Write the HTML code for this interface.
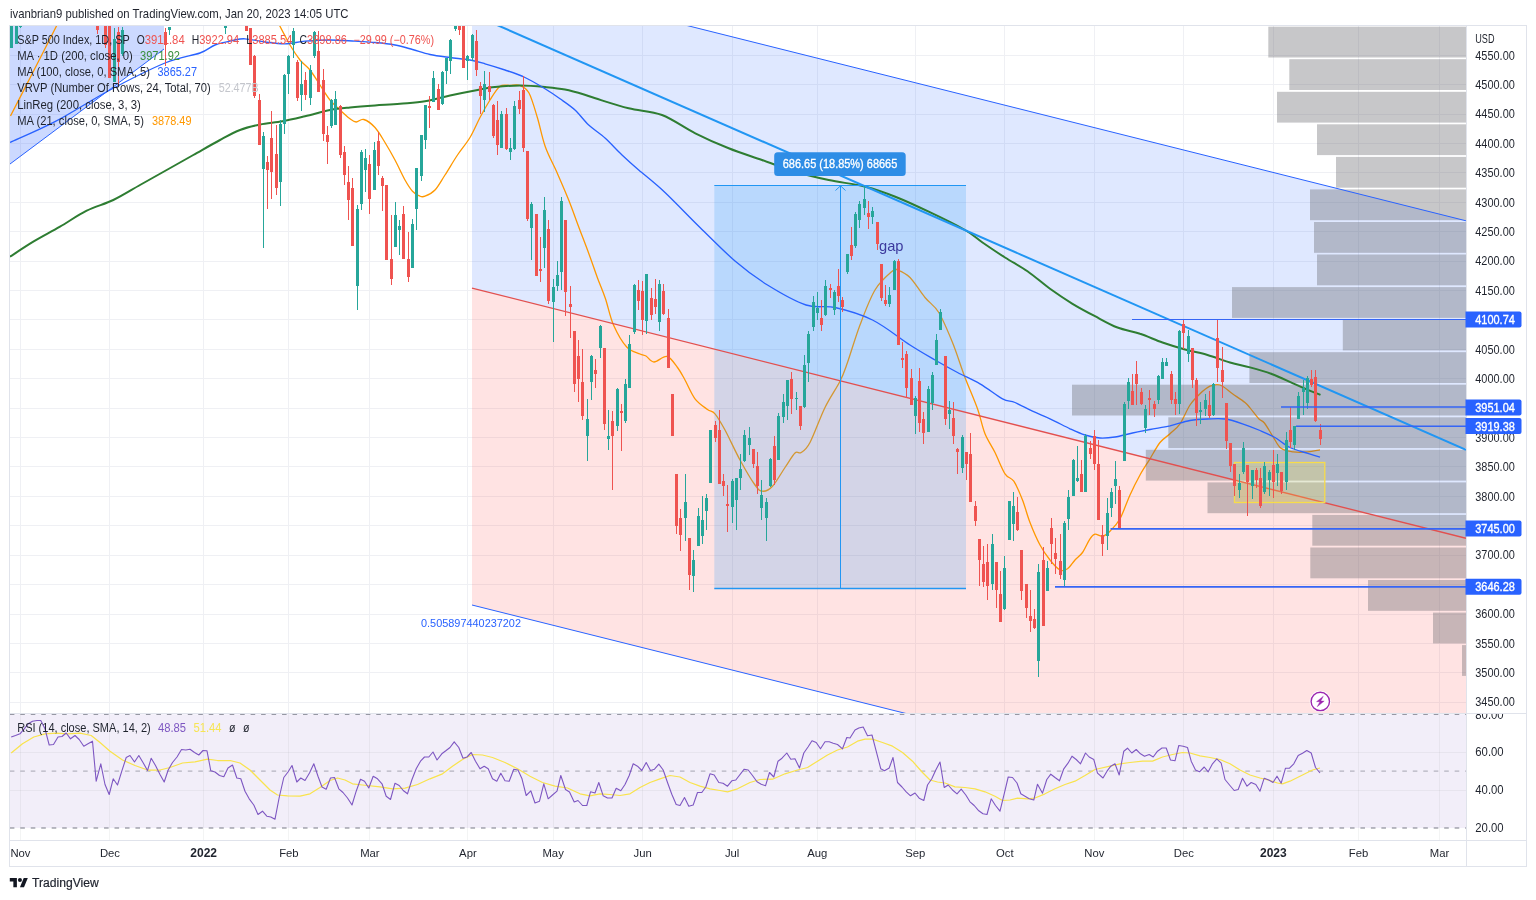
<!DOCTYPE html>
<html><head><meta charset="utf-8"><title>S&amp;P 500 chart</title><style>html,body{margin:0;padding:0;background:#fff;width:1536px;height:900px;overflow:hidden;font-family:"Liberation Sans",sans-serif}</style></head>
<body>
<div style="position:absolute;left:0;top:0;width:1536px;height:900px;will-change:transform">
<svg width="1536" height="900" viewBox="0 0 1536 900" style="position:absolute;left:0;top:0;font-family:'Liberation Sans',sans-serif">
<defs><clipPath id="mp"><rect x="10" y="26" width="1456" height="687.5"/></clipPath><clipPath id="rp"><rect x="10" y="714" width="1456" height="126"/></clipPath></defs>
<g clip-path="url(#mp)">
<line x1="20.5" y1="26" x2="20.5" y2="713" stroke="#eff0f4"/>
<line x1="109.5" y1="26" x2="109.5" y2="713" stroke="#eff0f4"/>
<line x1="203.5" y1="26" x2="203.5" y2="713" stroke="#eff0f4"/>
<line x1="288.5" y1="26" x2="288.5" y2="713" stroke="#eff0f4"/>
<line x1="369.5" y1="26" x2="369.5" y2="713" stroke="#eff0f4"/>
<line x1="467.5" y1="26" x2="467.5" y2="713" stroke="#eff0f4"/>
<line x1="553.5" y1="26" x2="553.5" y2="713" stroke="#eff0f4"/>
<line x1="642.5" y1="26" x2="642.5" y2="713" stroke="#eff0f4"/>
<line x1="732.5" y1="26" x2="732.5" y2="713" stroke="#eff0f4"/>
<line x1="817.5" y1="26" x2="817.5" y2="713" stroke="#eff0f4"/>
<line x1="915.5" y1="26" x2="915.5" y2="713" stroke="#eff0f4"/>
<line x1="1004.5" y1="26" x2="1004.5" y2="713" stroke="#eff0f4"/>
<line x1="1094.5" y1="26" x2="1094.5" y2="713" stroke="#eff0f4"/>
<line x1="1183.5" y1="26" x2="1183.5" y2="713" stroke="#eff0f4"/>
<line x1="1273.5" y1="26" x2="1273.5" y2="713" stroke="#eff0f4"/>
<line x1="1358.5" y1="26" x2="1358.5" y2="713" stroke="#eff0f4"/>
<line x1="1439.5" y1="26" x2="1439.5" y2="713" stroke="#eff0f4"/>
<line x1="10" y1="702.5" x2="1466" y2="702.5" stroke="#eff0f4"/>
<line x1="10" y1="672.5" x2="1466" y2="672.5" stroke="#eff0f4"/>
<line x1="10" y1="643.5" x2="1466" y2="643.5" stroke="#eff0f4"/>
<line x1="10" y1="614.5" x2="1466" y2="614.5" stroke="#eff0f4"/>
<line x1="10" y1="584.5" x2="1466" y2="584.5" stroke="#eff0f4"/>
<line x1="10" y1="555.5" x2="1466" y2="555.5" stroke="#eff0f4"/>
<line x1="10" y1="525.5" x2="1466" y2="525.5" stroke="#eff0f4"/>
<line x1="10" y1="496.5" x2="1466" y2="496.5" stroke="#eff0f4"/>
<line x1="10" y1="466.5" x2="1466" y2="466.5" stroke="#eff0f4"/>
<line x1="10" y1="437.5" x2="1466" y2="437.5" stroke="#eff0f4"/>
<line x1="10" y1="408.5" x2="1466" y2="408.5" stroke="#eff0f4"/>
<line x1="10" y1="378.5" x2="1466" y2="378.5" stroke="#eff0f4"/>
<line x1="10" y1="349.5" x2="1466" y2="349.5" stroke="#eff0f4"/>
<line x1="10" y1="319.5" x2="1466" y2="319.5" stroke="#eff0f4"/>
<line x1="10" y1="290.5" x2="1466" y2="290.5" stroke="#eff0f4"/>
<line x1="10" y1="261.5" x2="1466" y2="261.5" stroke="#eff0f4"/>
<line x1="10" y1="231.5" x2="1466" y2="231.5" stroke="#eff0f4"/>
<line x1="10" y1="202.5" x2="1466" y2="202.5" stroke="#eff0f4"/>
<line x1="10" y1="172.5" x2="1466" y2="172.5" stroke="#eff0f4"/>
<line x1="10" y1="143.5" x2="1466" y2="143.5" stroke="#eff0f4"/>
<line x1="10" y1="114.5" x2="1466" y2="114.5" stroke="#eff0f4"/>
<line x1="10" y1="84.5" x2="1466" y2="84.5" stroke="#eff0f4"/>
<line x1="10" y1="55.5" x2="1466" y2="55.5" stroke="#eff0f4"/>
<polygon points="10,26 164,26 164,49 10,164" fill="rgba(41,98,255,0.24)"/>
<line x1="10" y1="164" x2="164" y2="49" stroke="#2962ff" stroke-width="1"/>
<polygon points="472.0,-28.4 1466.0,220.8 1466.0,538.3 472.0,288.1" fill="rgba(41,98,255,0.15)"/>
<polygon points="472.0,288.1 1466.0,538.3 1466.0,853.5 472.0,605.0" fill="rgba(255,82,82,0.16)"/>
<path d="M10.5,116.0 C13.8,109.7 22.2,93.2 30.0,78.0 C37.8,62.8 52.5,33.8 57.0,25.0" fill="none" stroke="#ff9800" stroke-width="1.3" stroke-linejoin="round"/>
<path d="M278.8,24.0 C280.6,27.5 286.5,39.0 290.0,45.0 C293.5,51.0 296.7,55.8 300.0,60.0 C303.3,64.2 306.7,65.8 310.0,70.0 C313.3,74.2 316.7,80.0 320.0,85.0 C323.3,90.0 326.7,95.8 330.0,100.0 C333.3,104.2 336.7,106.9 340.0,110.0 C343.3,113.1 347.3,116.8 350.0,118.8 C352.7,120.8 354.0,121.9 356.2,122.0 C358.5,122.1 360.6,118.6 363.8,119.5 C366.9,120.4 371.5,123.7 375.0,127.5 C378.5,131.3 381.7,137.1 385.0,142.5 C388.3,147.9 391.7,153.8 395.0,160.0 C398.3,166.2 402.1,174.8 405.0,180.0 C407.9,185.2 410.0,188.5 412.5,191.2 C415.0,194.0 417.9,195.4 420.0,196.2 C422.1,197.1 422.5,197.3 425.0,196.2 C427.5,195.2 431.7,193.5 435.0,190.0 C438.3,186.5 441.2,180.8 445.0,175.0 C448.8,169.2 453.3,161.2 457.5,155.0 C461.7,148.8 466.2,143.8 470.0,137.5 C473.8,131.2 476.7,123.8 480.0,117.5 C483.3,111.2 486.7,105.2 490.0,100.0 C493.3,94.8 496.7,88.7 500.0,86.2 C503.3,83.8 506.7,85.6 510.0,85.5 C513.3,85.4 516.8,84.2 520.0,85.5 C523.2,86.8 526.1,87.6 529.0,93.0 C531.9,98.4 534.8,109.0 537.5,118.0 C540.2,127.0 542.0,137.6 545.3,146.7 C548.5,155.8 553.1,163.6 557.0,172.5 C560.9,181.4 565.2,191.2 568.7,200.0 C572.2,208.8 574.7,216.1 578.0,225.0 C581.3,233.9 585.5,244.5 588.7,253.3 C592.0,262.1 594.7,270.5 597.5,278.0 C600.3,285.5 602.6,290.5 605.3,298.3 C608.0,306.1 609.9,316.9 613.5,325.0 C617.1,333.1 622.3,342.2 626.7,347.0 C631.1,351.8 636.8,352.5 640.0,354.0 C643.2,355.5 643.7,354.7 646.0,356.0 C648.3,357.3 650.5,361.9 654.0,362.0 C657.5,362.1 663.1,355.6 667.0,356.5 C670.9,357.4 674.5,363.6 677.5,367.5 C680.5,371.4 682.1,374.8 685.0,380.0 C687.9,385.2 691.2,393.8 695.0,398.8 C698.8,403.7 704.2,407.0 707.5,409.5 C710.8,412.0 712.1,410.3 715.0,413.8 C717.9,417.2 720.8,422.3 725.0,430.0 C729.2,437.7 735.0,450.8 740.0,460.0 C745.0,469.2 751.2,479.8 755.0,485.0 C758.8,490.2 759.6,491.0 762.5,491.2 C765.4,491.5 768.8,490.2 772.5,486.2 C776.2,482.3 781.2,473.0 785.0,467.5 C788.8,462.0 792.3,455.5 795.0,453.0 C797.7,450.5 798.8,454.2 801.2,452.5 C803.8,450.8 806.0,450.0 810.0,442.5 C814.0,435.0 820.0,417.7 825.0,407.5 C830.0,397.3 836.2,388.8 840.0,381.2 C843.8,373.8 844.2,371.9 847.5,362.5 C850.8,353.1 855.4,337.1 860.0,325.0 C864.6,312.9 869.6,299.0 875.0,290.0 C880.4,281.0 888.8,274.3 892.5,271.0 C896.2,267.7 894.6,268.9 897.5,270.0 C900.4,271.1 905.4,272.9 910.0,277.5 C914.6,282.1 920.2,291.7 925.0,297.5 C929.8,303.3 934.2,305.0 938.8,312.5 C943.3,320.0 948.1,331.7 952.5,342.5 C956.9,353.3 960.8,366.5 965.0,377.5 C969.2,388.5 974.2,399.4 977.5,408.8 C980.8,418.1 982.1,426.5 985.0,433.8 C987.9,441.0 991.7,445.8 995.0,452.5 C998.3,459.2 1001.9,469.0 1005.0,473.8 C1008.1,478.5 1010.8,476.9 1013.8,481.2 C1016.7,485.6 1019.8,493.1 1022.5,500.0 C1025.2,506.9 1027.1,515.0 1030.0,522.5 C1032.9,530.0 1036.7,538.8 1040.0,545.0 C1043.3,551.2 1046.7,555.8 1050.0,560.0 C1053.3,564.2 1057.1,568.5 1060.0,570.0 C1062.9,571.5 1065.0,570.4 1067.5,568.8 C1070.0,567.1 1072.5,562.7 1075.0,560.0 C1077.5,557.3 1080.0,556.0 1082.5,552.5 C1085.0,549.0 1087.9,541.8 1090.0,538.8 C1092.1,535.7 1092.9,534.7 1095.0,534.2 C1097.1,533.8 1100.0,536.8 1102.5,536.2 C1105.0,535.8 1107.1,534.2 1110.0,531.2 C1112.9,528.3 1116.7,524.8 1120.0,518.8 C1123.3,512.7 1126.7,502.3 1130.0,495.0 C1133.3,487.7 1136.7,481.0 1140.0,475.0 C1143.3,469.0 1146.7,464.2 1150.0,458.8 C1153.3,453.3 1156.7,446.7 1160.0,442.5 C1163.3,438.3 1166.7,436.9 1170.0,433.8 C1173.3,430.6 1176.7,428.5 1180.0,423.8 C1183.3,419.0 1186.7,410.0 1190.0,405.0 C1193.3,400.0 1196.7,396.9 1200.0,393.8 C1203.3,390.6 1206.7,387.7 1210.0,386.2 C1213.3,384.8 1216.2,383.8 1220.0,385.0 C1223.8,386.2 1228.3,390.8 1232.5,393.8 C1236.7,396.7 1242.1,400.1 1245.0,402.5 C1247.9,404.9 1247.7,405.2 1250.0,407.9 C1252.3,410.6 1256.3,416.2 1258.7,418.7 C1261.1,421.2 1262.0,420.0 1264.4,423.0 C1266.8,426.0 1270.3,432.5 1273.1,436.8 C1275.9,441.0 1277.6,445.8 1281.0,448.3 C1284.4,450.8 1288.8,451.3 1293.3,451.9 C1297.8,452.5 1303.3,452.3 1307.8,451.9 C1312.2,451.5 1318.0,450.1 1320.0,449.8" fill="none" stroke="#ff9800" stroke-width="1.3" stroke-linejoin="round"/>
<rect x="714.3" y="185.5" width="251.7" height="403.3" fill="rgba(33,150,243,0.2)"/>
<rect x="1268.3" y="26.7" width="197.7" height="30.8" fill="rgba(100,101,106,0.36)"/>
<rect x="1289.3" y="59.2" width="176.7" height="30.8" fill="rgba(100,101,106,0.36)"/>
<rect x="1277" y="91.8" width="189.0" height="30.8" fill="rgba(100,101,106,0.36)"/>
<rect x="1317" y="124.3" width="149.0" height="30.8" fill="rgba(100,101,106,0.36)"/>
<rect x="1336" y="156.9" width="130.0" height="30.8" fill="rgba(100,101,106,0.36)"/>
<rect x="1310" y="189.4" width="156.0" height="30.8" fill="rgba(100,101,106,0.36)"/>
<rect x="1314" y="222.0" width="152.0" height="30.8" fill="rgba(100,101,106,0.36)"/>
<rect x="1317" y="254.5" width="149.0" height="30.8" fill="rgba(100,101,106,0.36)"/>
<rect x="1232" y="287.1" width="234.0" height="30.8" fill="rgba(100,101,106,0.36)"/>
<rect x="1342.8" y="319.6" width="123.2" height="30.8" fill="rgba(100,101,106,0.36)"/>
<rect x="1249.4" y="352.2" width="216.6" height="30.8" fill="rgba(100,101,106,0.36)"/>
<rect x="1072" y="384.7" width="394.0" height="30.8" fill="rgba(100,101,106,0.36)"/>
<rect x="1168.3" y="417.3" width="297.7" height="30.8" fill="rgba(100,101,106,0.36)"/>
<rect x="1145.8" y="449.8" width="320.2" height="30.8" fill="rgba(100,101,106,0.36)"/>
<rect x="1207.5" y="482.4" width="258.5" height="30.8" fill="rgba(100,101,106,0.36)"/>
<rect x="1312.3" y="514.9" width="153.7" height="30.8" fill="rgba(100,101,106,0.36)"/>
<rect x="1310.3" y="547.5" width="155.7" height="30.8" fill="rgba(100,101,106,0.36)"/>
<rect x="1368" y="580.0" width="98.0" height="30.8" fill="rgba(100,101,106,0.36)"/>
<rect x="1433" y="612.6" width="33.0" height="30.8" fill="rgba(100,101,106,0.36)"/>
<rect x="1462" y="645.1" width="4.0" height="30.8" fill="rgba(100,101,106,0.36)"/>
<line x1="472.0" y1="-28.4" x2="1466.0" y2="220.8" stroke="#2962ff" stroke-width="1"/>
<line x1="472.0" y1="605.0" x2="1466.0" y2="853.5" stroke="#2962ff" stroke-width="1"/>
<line x1="472.0" y1="288.1" x2="1466.0" y2="538.3" stroke="#e2504f" stroke-width="1.35"/>
<path d="M10.0,256.7 C13.9,254.2 25.0,246.7 33.3,241.7 C41.6,236.7 51.1,231.9 60.0,226.7 C68.9,221.5 77.8,215.1 86.7,210.7 C95.6,206.2 104.4,204.3 113.3,200.0 C122.2,195.7 131.1,190.0 140.0,185.0 C148.9,180.0 157.8,175.0 166.7,170.0 C175.6,165.0 184.4,160.0 193.3,155.0 C202.2,150.0 212.2,144.2 220.0,140.0 C227.8,135.8 233.3,132.6 240.0,130.0 C246.7,127.4 252.9,126.0 260.0,124.5 C267.1,123.0 275.0,122.6 282.5,121.2 C290.0,119.9 297.1,118.1 305.0,116.2 C312.9,114.4 322.5,111.5 330.0,110.0 C337.5,108.5 342.5,108.2 350.0,107.5 C357.5,106.8 366.7,106.1 375.0,105.5 C383.3,104.9 391.7,104.5 400.0,103.8 C408.3,103.0 416.7,102.6 425.0,101.2 C433.3,99.9 441.7,97.3 450.0,95.5 C458.3,93.7 467.5,91.9 475.0,90.5 C482.5,89.1 487.5,87.8 495.0,87.0 C502.5,86.2 511.7,85.5 520.0,85.5 C528.3,85.5 537.5,86.3 545.0,87.0 C552.5,87.7 558.5,88.2 565.0,89.5 C571.5,90.8 579.0,93.0 584.0,94.5 C589.0,96.0 587.8,96.0 595.3,98.3 C602.8,100.6 617.6,105.5 628.7,108.3 C639.8,111.1 650.9,110.8 662.0,115.0 C673.1,119.2 684.2,127.8 695.3,133.3 C706.4,138.9 717.6,143.9 728.7,148.3 C739.8,152.8 750.9,156.1 762.0,160.0 C773.1,163.9 784.2,168.4 795.3,171.7 C806.4,175.0 817.0,177.5 828.7,180.0 C840.4,182.5 854.2,183.9 865.3,186.7 C876.4,189.5 884.7,192.5 895.3,196.7 C905.9,200.9 917.1,206.1 928.7,211.7 C940.3,217.2 956.0,224.9 965.0,230.0 C974.0,235.1 975.8,237.9 982.5,242.5 C989.2,247.1 997.5,252.7 1005.0,257.5 C1012.5,262.3 1020.0,266.0 1027.5,271.2 C1035.0,276.5 1042.5,283.3 1050.0,288.8 C1057.5,294.2 1065.0,299.2 1072.5,303.8 C1080.0,308.3 1087.5,312.3 1095.0,316.2 C1102.5,320.2 1110.0,324.6 1117.5,327.5 C1125.0,330.4 1132.5,331.2 1140.0,333.8 C1147.5,336.2 1155.0,339.9 1162.5,342.5 C1170.0,345.1 1177.5,347.4 1185.0,349.5 C1192.5,351.6 1200.0,352.8 1207.5,355.0 C1215.0,357.2 1222.9,360.4 1230.0,362.5 C1237.1,364.6 1243.0,365.5 1250.0,367.4 C1257.0,369.3 1264.5,371.4 1271.7,374.0 C1278.9,376.6 1287.0,380.7 1293.0,383.3 C1299.0,385.9 1303.2,387.9 1307.8,389.8 C1312.4,391.7 1318.4,394.0 1320.5,394.9" fill="none" stroke="#2e7d32" stroke-width="2" stroke-linejoin="round"/>
<path d="M10.0,142.5 C17.5,139.0 38.3,130.4 55.0,121.7 C71.7,113.0 91.7,99.8 110.0,90.0 C128.3,80.2 150.0,69.2 165.0,63.0 C180.0,56.8 191.7,56.0 200.0,53.0 C208.3,50.0 209.6,47.1 215.0,45.0 C220.4,42.9 227.5,41.5 232.5,40.5 C237.5,39.5 239.6,38.5 245.0,38.8 C250.4,39.0 258.3,41.2 265.0,42.0 C271.7,42.8 278.3,43.9 285.0,43.8 C291.7,43.6 297.5,41.9 305.0,41.2 C312.5,40.6 321.7,40.0 330.0,40.0 C338.3,40.0 347.5,40.8 355.0,41.2 C362.5,41.7 368.3,41.9 375.0,42.5 C381.7,43.1 388.8,43.8 395.0,45.0 C401.2,46.2 406.7,47.9 412.5,49.5 C418.3,51.1 423.8,53.2 430.0,54.5 C436.2,55.8 443.3,56.6 450.0,57.5 C456.7,58.4 464.2,59.0 470.0,60.0 C475.8,61.0 479.2,62.1 485.0,63.8 C490.8,65.4 498.3,67.7 505.0,70.0 C511.7,72.3 518.3,74.4 525.0,77.5 C531.7,80.6 539.2,85.2 545.0,88.8 C550.8,92.3 555.0,95.2 560.0,98.8 C565.0,102.3 570.2,105.6 575.0,110.0 C579.8,114.4 583.7,120.3 588.7,125.0 C593.8,129.7 599.8,133.3 605.3,138.3 C610.8,143.3 616.4,149.7 622.0,155.0 C627.6,160.3 631.5,163.8 638.7,170.0 C645.9,176.2 654.8,182.9 665.0,192.5 C675.2,202.1 688.3,216.1 700.0,227.5 C711.7,238.9 723.8,251.4 735.0,261.0 C746.2,270.6 755.7,277.7 767.5,285.0 C779.3,292.3 794.8,301.2 806.0,305.0 C817.2,308.8 823.9,305.0 835.0,307.5 C846.1,310.0 860.0,313.8 872.5,320.0 C885.0,326.2 899.6,338.3 910.0,345.0 C920.4,351.7 927.1,355.4 935.0,360.0 C942.9,364.6 950.0,368.5 957.5,372.5 C965.0,376.5 972.5,379.4 980.0,383.8 C987.5,388.1 996.7,395.6 1002.5,398.8 C1008.3,401.9 1010.0,400.4 1015.0,402.5 C1020.0,404.6 1026.7,408.5 1032.5,411.2 C1038.3,414.0 1043.8,415.8 1050.0,418.8 C1056.2,421.7 1064.2,426.0 1070.0,428.8 C1075.8,431.5 1080.0,433.5 1085.0,435.0 C1090.0,436.5 1095.0,437.7 1100.0,438.0 C1105.0,438.3 1109.6,437.8 1115.0,437.0 C1120.4,436.2 1126.7,434.2 1132.5,433.0 C1138.3,431.8 1143.8,430.7 1150.0,429.5 C1156.2,428.3 1163.3,427.2 1170.0,425.8 C1176.7,424.2 1183.8,421.6 1190.0,420.5 C1196.2,419.4 1201.7,419.2 1207.5,419.0 C1213.3,418.8 1219.2,418.2 1225.0,419.0 C1230.8,419.8 1236.7,421.8 1242.5,423.8 C1248.3,425.7 1254.6,428.2 1260.0,430.5 C1265.4,432.8 1270.0,434.7 1275.0,437.5 C1280.0,440.3 1284.5,444.9 1290.0,447.5 C1295.5,450.1 1302.8,451.8 1307.8,453.4 C1312.8,455.0 1318.0,456.6 1320.0,457.2" fill="none" stroke="#2962ff" stroke-width="1.35" stroke-linejoin="round"/>
<line x1="497" y1="25" x2="1466" y2="449.8" stroke="#2196f3" stroke-width="2"/>
<rect x="1234.5" y="462.5" width="90.3" height="40" fill="rgba(255,235,59,0.22)" stroke="#f7dc4a" stroke-width="1.3"/>
<rect x="11" y="20" width="1" height="28" fill="#26a69a"/>
<rect x="10" y="20" width="3" height="28" fill="#26a69a"/>
<rect x="16" y="20" width="1" height="24" fill="#26a69a"/>
<rect x="15" y="20" width="3" height="24" fill="#26a69a"/>
<rect x="20" y="20" width="1" height="8" fill="#26a69a"/>
<rect x="19" y="20" width="3" height="7" fill="#26a69a"/>
<rect x="97" y="20" width="1" height="14" fill="#ef5350"/>
<rect x="96" y="20" width="3" height="10" fill="#ef5350"/>
<rect x="105" y="20" width="1" height="28" fill="#ef5350"/>
<rect x="104" y="20" width="3" height="25" fill="#ef5350"/>
<rect x="109" y="20" width="1" height="58" fill="#ef5350"/>
<rect x="108" y="20" width="3" height="58" fill="#ef5350"/>
<rect x="114" y="28" width="1" height="54" fill="#26a69a"/>
<rect x="113" y="39" width="3" height="43" fill="#26a69a"/>
<rect x="118" y="27" width="1" height="59" fill="#ef5350"/>
<rect x="117" y="32" width="3" height="30" fill="#ef5350"/>
<rect x="122" y="27" width="1" height="29" fill="#26a69a"/>
<rect x="121" y="30" width="3" height="24" fill="#26a69a"/>
<rect x="165" y="28" width="1" height="38" fill="#ef5350"/>
<rect x="164" y="32" width="3" height="13" fill="#ef5350"/>
<rect x="169" y="27" width="1" height="8" fill="#26a69a"/>
<rect x="168" y="27" width="3" height="3" fill="#26a69a"/>
<rect x="225" y="20" width="1" height="14" fill="#26a69a"/>
<rect x="224" y="20" width="3" height="8" fill="#26a69a"/>
<rect x="246" y="20" width="1" height="11" fill="#ef5350"/>
<rect x="245" y="20" width="3" height="11" fill="#ef5350"/>
<rect x="250" y="28" width="1" height="37" fill="#ef5350"/>
<rect x="249" y="28" width="3" height="37" fill="#ef5350"/>
<rect x="254" y="55" width="1" height="43" fill="#ef5350"/>
<rect x="253" y="56" width="3" height="40" fill="#ef5350"/>
<rect x="259" y="94" width="1" height="51" fill="#ef5350"/>
<rect x="258" y="100" width="3" height="45" fill="#ef5350"/>
<rect x="263" y="132" width="1" height="116" fill="#26a69a"/>
<rect x="262" y="136" width="3" height="33" fill="#26a69a"/>
<rect x="267" y="156" width="1" height="53" fill="#ef5350"/>
<rect x="266" y="162" width="3" height="8" fill="#ef5350"/>
<rect x="271" y="111" width="1" height="88" fill="#ef5350"/>
<rect x="270" y="138" width="3" height="34" fill="#ef5350"/>
<rect x="276" y="125" width="1" height="70" fill="#ef5350"/>
<rect x="275" y="154" width="3" height="34" fill="#ef5350"/>
<rect x="280" y="120" width="1" height="86" fill="#26a69a"/>
<rect x="279" y="124" width="3" height="58" fill="#26a69a"/>
<rect x="284" y="74" width="1" height="60" fill="#26a69a"/>
<rect x="283" y="75" width="3" height="49" fill="#26a69a"/>
<rect x="288" y="55" width="1" height="39" fill="#26a69a"/>
<rect x="287" y="56" width="3" height="18" fill="#26a69a"/>
<rect x="293" y="28" width="1" height="30" fill="#26a69a"/>
<rect x="292" y="31" width="3" height="14" fill="#26a69a"/>
<rect x="297" y="60" width="1" height="41" fill="#ef5350"/>
<rect x="296" y="62" width="3" height="36" fill="#ef5350"/>
<rect x="301" y="61" width="1" height="50" fill="#26a69a"/>
<rect x="300" y="84" width="3" height="11" fill="#26a69a"/>
<rect x="305" y="72" width="1" height="28" fill="#ef5350"/>
<rect x="304" y="80" width="3" height="15" fill="#ef5350"/>
<rect x="310" y="65" width="1" height="40" fill="#26a69a"/>
<rect x="309" y="70" width="3" height="28" fill="#26a69a"/>
<rect x="314" y="31" width="1" height="27" fill="#26a69a"/>
<rect x="313" y="32" width="3" height="24" fill="#26a69a"/>
<rect x="318" y="31" width="1" height="61" fill="#ef5350"/>
<rect x="317" y="51" width="3" height="41" fill="#ef5350"/>
<rect x="323" y="69" width="1" height="72" fill="#ef5350"/>
<rect x="322" y="80" width="3" height="54" fill="#ef5350"/>
<rect x="327" y="126" width="1" height="38" fill="#ef5350"/>
<rect x="326" y="135" width="3" height="7" fill="#ef5350"/>
<rect x="331" y="99" width="1" height="29" fill="#26a69a"/>
<rect x="330" y="100" width="3" height="26" fill="#26a69a"/>
<rect x="335" y="91" width="1" height="34" fill="#26a69a"/>
<rect x="334" y="99" width="3" height="26" fill="#26a69a"/>
<rect x="340" y="105" width="1" height="53" fill="#ef5350"/>
<rect x="339" y="106" width="3" height="49" fill="#ef5350"/>
<rect x="344" y="146" width="1" height="39" fill="#ef5350"/>
<rect x="343" y="152" width="3" height="23" fill="#ef5350"/>
<rect x="348" y="166" width="1" height="54" fill="#ef5350"/>
<rect x="347" y="182" width="3" height="18" fill="#ef5350"/>
<rect x="352" y="178" width="1" height="68" fill="#ef5350"/>
<rect x="351" y="188" width="3" height="58" fill="#ef5350"/>
<rect x="357" y="205" width="1" height="105" fill="#26a69a"/>
<rect x="356" y="209" width="3" height="77" fill="#26a69a"/>
<rect x="361" y="150" width="1" height="60" fill="#26a69a"/>
<rect x="360" y="152" width="3" height="52" fill="#26a69a"/>
<rect x="365" y="149" width="1" height="43" fill="#26a69a"/>
<rect x="364" y="158" width="3" height="12" fill="#26a69a"/>
<rect x="369" y="155" width="1" height="59" fill="#ef5350"/>
<rect x="368" y="164" width="3" height="35" fill="#ef5350"/>
<rect x="374" y="142" width="1" height="48" fill="#26a69a"/>
<rect x="373" y="150" width="3" height="40" fill="#26a69a"/>
<rect x="378" y="132" width="1" height="43" fill="#ef5350"/>
<rect x="377" y="141" width="3" height="25" fill="#ef5350"/>
<rect x="382" y="176" width="1" height="35" fill="#ef5350"/>
<rect x="381" y="178" width="3" height="8" fill="#ef5350"/>
<rect x="386" y="185" width="1" height="75" fill="#ef5350"/>
<rect x="385" y="185" width="3" height="75" fill="#ef5350"/>
<rect x="391" y="215" width="1" height="70" fill="#ef5350"/>
<rect x="390" y="259" width="3" height="20" fill="#ef5350"/>
<rect x="395" y="202" width="1" height="45" fill="#26a69a"/>
<rect x="394" y="215" width="3" height="32" fill="#26a69a"/>
<rect x="399" y="220" width="1" height="35" fill="#26a69a"/>
<rect x="398" y="226" width="3" height="4" fill="#26a69a"/>
<rect x="403" y="206" width="1" height="53" fill="#ef5350"/>
<rect x="402" y="214" width="3" height="45" fill="#ef5350"/>
<rect x="408" y="232" width="1" height="50" fill="#ef5350"/>
<rect x="407" y="259" width="3" height="18" fill="#ef5350"/>
<rect x="412" y="219" width="1" height="49" fill="#26a69a"/>
<rect x="411" y="224" width="3" height="44" fill="#26a69a"/>
<rect x="416" y="168" width="1" height="62" fill="#26a69a"/>
<rect x="415" y="168" width="3" height="41" fill="#26a69a"/>
<rect x="421" y="135" width="1" height="46" fill="#26a69a"/>
<rect x="420" y="135" width="3" height="41" fill="#26a69a"/>
<rect x="425" y="105" width="1" height="44" fill="#26a69a"/>
<rect x="424" y="105" width="3" height="35" fill="#26a69a"/>
<rect x="429" y="96" width="1" height="32" fill="#ef5350"/>
<rect x="428" y="106" width="3" height="2" fill="#ef5350"/>
<rect x="433" y="71" width="1" height="31" fill="#26a69a"/>
<rect x="432" y="78" width="3" height="24" fill="#26a69a"/>
<rect x="438" y="84" width="1" height="26" fill="#ef5350"/>
<rect x="437" y="89" width="3" height="21" fill="#ef5350"/>
<rect x="442" y="71" width="1" height="34" fill="#26a69a"/>
<rect x="441" y="72" width="3" height="32" fill="#26a69a"/>
<rect x="446" y="58" width="1" height="26" fill="#26a69a"/>
<rect x="445" y="58" width="3" height="13" fill="#26a69a"/>
<rect x="450" y="39" width="1" height="35" fill="#26a69a"/>
<rect x="449" y="40" width="3" height="21" fill="#26a69a"/>
<rect x="455" y="20" width="1" height="11" fill="#26a69a"/>
<rect x="454" y="20" width="3" height="9" fill="#26a69a"/>
<rect x="459" y="20" width="1" height="15" fill="#ef5350"/>
<rect x="458" y="20" width="3" height="10" fill="#ef5350"/>
<rect x="463" y="20" width="1" height="48" fill="#ef5350"/>
<rect x="462" y="20" width="3" height="48" fill="#ef5350"/>
<rect x="467" y="55" width="1" height="25" fill="#26a69a"/>
<rect x="466" y="56" width="3" height="5" fill="#26a69a"/>
<rect x="472" y="34" width="1" height="27" fill="#26a69a"/>
<rect x="471" y="35" width="3" height="23" fill="#26a69a"/>
<rect x="476" y="30" width="1" height="46" fill="#ef5350"/>
<rect x="475" y="41" width="3" height="29" fill="#ef5350"/>
<rect x="480" y="82" width="1" height="32" fill="#ef5350"/>
<rect x="479" y="86" width="3" height="10" fill="#ef5350"/>
<rect x="484" y="71" width="1" height="41" fill="#26a69a"/>
<rect x="483" y="84" width="3" height="16" fill="#26a69a"/>
<rect x="489" y="72" width="1" height="28" fill="#ef5350"/>
<rect x="488" y="86" width="3" height="6" fill="#ef5350"/>
<rect x="493" y="104" width="1" height="34" fill="#ef5350"/>
<rect x="492" y="105" width="3" height="31" fill="#ef5350"/>
<rect x="497" y="101" width="1" height="54" fill="#ef5350"/>
<rect x="496" y="120" width="3" height="25" fill="#ef5350"/>
<rect x="501" y="111" width="1" height="37" fill="#26a69a"/>
<rect x="500" y="114" width="3" height="34" fill="#26a69a"/>
<rect x="506" y="108" width="1" height="42" fill="#ef5350"/>
<rect x="505" y="114" width="3" height="35" fill="#ef5350"/>
<rect x="510" y="138" width="1" height="22" fill="#26a69a"/>
<rect x="509" y="148" width="3" height="4" fill="#26a69a"/>
<rect x="514" y="101" width="1" height="49" fill="#26a69a"/>
<rect x="513" y="106" width="3" height="43" fill="#26a69a"/>
<rect x="519" y="91" width="1" height="23" fill="#ef5350"/>
<rect x="518" y="100" width="3" height="9" fill="#ef5350"/>
<rect x="523" y="76" width="1" height="76" fill="#ef5350"/>
<rect x="522" y="90" width="3" height="58" fill="#ef5350"/>
<rect x="527" y="151" width="1" height="70" fill="#ef5350"/>
<rect x="526" y="151" width="3" height="68" fill="#ef5350"/>
<rect x="531" y="202" width="1" height="58" fill="#26a69a"/>
<rect x="530" y="204" width="3" height="24" fill="#26a69a"/>
<rect x="536" y="214" width="1" height="62" fill="#ef5350"/>
<rect x="535" y="214" width="3" height="62" fill="#ef5350"/>
<rect x="540" y="237" width="1" height="45" fill="#ef5350"/>
<rect x="539" y="269" width="3" height="2" fill="#ef5350"/>
<rect x="544" y="197" width="1" height="71" fill="#26a69a"/>
<rect x="543" y="210" width="3" height="38" fill="#26a69a"/>
<rect x="548" y="220" width="1" height="84" fill="#ef5350"/>
<rect x="547" y="229" width="3" height="72" fill="#ef5350"/>
<rect x="553" y="279" width="1" height="63" fill="#26a69a"/>
<rect x="552" y="287" width="3" height="15" fill="#26a69a"/>
<rect x="557" y="261" width="1" height="30" fill="#26a69a"/>
<rect x="556" y="275" width="3" height="11" fill="#26a69a"/>
<rect x="561" y="197" width="1" height="93" fill="#26a69a"/>
<rect x="560" y="201" width="3" height="71" fill="#26a69a"/>
<rect x="565" y="220" width="1" height="96" fill="#ef5350"/>
<rect x="564" y="220" width="3" height="72" fill="#ef5350"/>
<rect x="570" y="286" width="1" height="52" fill="#ef5350"/>
<rect x="569" y="304" width="3" height="3" fill="#ef5350"/>
<rect x="574" y="331" width="1" height="61" fill="#ef5350"/>
<rect x="573" y="331" width="3" height="53" fill="#ef5350"/>
<rect x="578" y="340" width="1" height="62" fill="#ef5350"/>
<rect x="577" y="356" width="3" height="23" fill="#ef5350"/>
<rect x="582" y="349" width="1" height="71" fill="#ef5350"/>
<rect x="581" y="382" width="3" height="34" fill="#ef5350"/>
<rect x="587" y="399" width="1" height="62" fill="#26a69a"/>
<rect x="586" y="419" width="3" height="17" fill="#26a69a"/>
<rect x="591" y="355" width="1" height="45" fill="#26a69a"/>
<rect x="590" y="356" width="3" height="26" fill="#26a69a"/>
<rect x="595" y="359" width="1" height="29" fill="#ef5350"/>
<rect x="594" y="370" width="3" height="4" fill="#ef5350"/>
<rect x="600" y="325" width="1" height="33" fill="#26a69a"/>
<rect x="599" y="326" width="3" height="22" fill="#26a69a"/>
<rect x="604" y="348" width="1" height="82" fill="#ef5350"/>
<rect x="603" y="348" width="3" height="76" fill="#ef5350"/>
<rect x="608" y="410" width="1" height="40" fill="#26a69a"/>
<rect x="607" y="436" width="3" height="3" fill="#26a69a"/>
<rect x="612" y="411" width="1" height="79" fill="#ef5350"/>
<rect x="611" y="421" width="3" height="15" fill="#ef5350"/>
<rect x="617" y="388" width="1" height="43" fill="#26a69a"/>
<rect x="616" y="389" width="3" height="37" fill="#26a69a"/>
<rect x="621" y="404" width="1" height="47" fill="#ef5350"/>
<rect x="620" y="411" width="3" height="2" fill="#ef5350"/>
<rect x="625" y="379" width="1" height="44" fill="#26a69a"/>
<rect x="624" y="384" width="3" height="37" fill="#26a69a"/>
<rect x="629" y="335" width="1" height="53" fill="#26a69a"/>
<rect x="628" y="344" width="3" height="44" fill="#26a69a"/>
<rect x="634" y="284" width="1" height="50" fill="#26a69a"/>
<rect x="633" y="285" width="3" height="47" fill="#26a69a"/>
<rect x="638" y="280" width="1" height="30" fill="#ef5350"/>
<rect x="637" y="290" width="3" height="11" fill="#ef5350"/>
<rect x="642" y="281" width="1" height="54" fill="#ef5350"/>
<rect x="641" y="291" width="3" height="29" fill="#ef5350"/>
<rect x="646" y="274" width="1" height="60" fill="#26a69a"/>
<rect x="645" y="274" width="3" height="47" fill="#26a69a"/>
<rect x="651" y="288" width="1" height="32" fill="#ef5350"/>
<rect x="650" y="298" width="3" height="17" fill="#ef5350"/>
<rect x="655" y="279" width="1" height="35" fill="#ef5350"/>
<rect x="654" y="299" width="3" height="8" fill="#ef5350"/>
<rect x="659" y="280" width="1" height="51" fill="#26a69a"/>
<rect x="658" y="284" width="3" height="38" fill="#26a69a"/>
<rect x="663" y="284" width="1" height="31" fill="#ef5350"/>
<rect x="662" y="291" width="3" height="23" fill="#ef5350"/>
<rect x="668" y="309" width="1" height="59" fill="#ef5350"/>
<rect x="667" y="318" width="3" height="50" fill="#ef5350"/>
<rect x="672" y="394" width="1" height="42" fill="#ef5350"/>
<rect x="671" y="394" width="3" height="42" fill="#ef5350"/>
<rect x="676" y="474" width="1" height="60" fill="#ef5350"/>
<rect x="675" y="474" width="3" height="52" fill="#ef5350"/>
<rect x="680" y="509" width="1" height="42" fill="#ef5350"/>
<rect x="679" y="518" width="3" height="17" fill="#ef5350"/>
<rect x="685" y="474" width="1" height="67" fill="#26a69a"/>
<rect x="684" y="502" width="3" height="16" fill="#26a69a"/>
<rect x="689" y="538" width="1" height="52" fill="#ef5350"/>
<rect x="688" y="538" width="3" height="37" fill="#ef5350"/>
<rect x="693" y="550" width="1" height="42" fill="#26a69a"/>
<rect x="692" y="560" width="3" height="16" fill="#26a69a"/>
<rect x="698" y="508" width="1" height="38" fill="#26a69a"/>
<rect x="697" y="516" width="3" height="30" fill="#26a69a"/>
<rect x="702" y="496" width="1" height="48" fill="#26a69a"/>
<rect x="701" y="520" width="3" height="16" fill="#26a69a"/>
<rect x="706" y="494" width="1" height="36" fill="#26a69a"/>
<rect x="705" y="498" width="3" height="13" fill="#26a69a"/>
<rect x="710" y="430" width="1" height="53" fill="#26a69a"/>
<rect x="709" y="430" width="3" height="53" fill="#26a69a"/>
<rect x="715" y="421" width="1" height="21" fill="#ef5350"/>
<rect x="714" y="425" width="3" height="13" fill="#ef5350"/>
<rect x="719" y="410" width="1" height="74" fill="#ef5350"/>
<rect x="718" y="430" width="3" height="54" fill="#ef5350"/>
<rect x="723" y="474" width="1" height="22" fill="#ef5350"/>
<rect x="722" y="481" width="3" height="5" fill="#ef5350"/>
<rect x="727" y="485" width="1" height="47" fill="#ef5350"/>
<rect x="726" y="504" width="3" height="2" fill="#ef5350"/>
<rect x="732" y="479" width="1" height="44" fill="#26a69a"/>
<rect x="731" y="481" width="3" height="26" fill="#26a69a"/>
<rect x="736" y="478" width="1" height="52" fill="#26a69a"/>
<rect x="735" y="478" width="3" height="22" fill="#26a69a"/>
<rect x="740" y="454" width="1" height="36" fill="#26a69a"/>
<rect x="739" y="469" width="3" height="9" fill="#26a69a"/>
<rect x="744" y="430" width="1" height="32" fill="#26a69a"/>
<rect x="743" y="435" width="3" height="26" fill="#26a69a"/>
<rect x="749" y="427" width="1" height="28" fill="#26a69a"/>
<rect x="748" y="438" width="3" height="7" fill="#26a69a"/>
<rect x="753" y="449" width="1" height="19" fill="#ef5350"/>
<rect x="752" y="449" width="3" height="15" fill="#ef5350"/>
<rect x="757" y="452" width="1" height="42" fill="#ef5350"/>
<rect x="756" y="466" width="3" height="20" fill="#ef5350"/>
<rect x="761" y="480" width="1" height="40" fill="#26a69a"/>
<rect x="760" y="495" width="3" height="13" fill="#26a69a"/>
<rect x="766" y="498" width="1" height="43" fill="#26a69a"/>
<rect x="765" y="502" width="3" height="16" fill="#26a69a"/>
<rect x="770" y="458" width="1" height="29" fill="#26a69a"/>
<rect x="769" y="459" width="3" height="27" fill="#26a69a"/>
<rect x="774" y="436" width="1" height="49" fill="#ef5350"/>
<rect x="773" y="446" width="3" height="34" fill="#ef5350"/>
<rect x="778" y="413" width="1" height="47" fill="#26a69a"/>
<rect x="777" y="416" width="3" height="44" fill="#26a69a"/>
<rect x="783" y="394" width="1" height="29" fill="#26a69a"/>
<rect x="782" y="402" width="3" height="15" fill="#26a69a"/>
<rect x="787" y="380" width="1" height="40" fill="#26a69a"/>
<rect x="786" y="380" width="3" height="26" fill="#26a69a"/>
<rect x="791" y="372" width="1" height="42" fill="#ef5350"/>
<rect x="790" y="379" width="3" height="20" fill="#ef5350"/>
<rect x="796" y="392" width="1" height="18" fill="#26a69a"/>
<rect x="795" y="398" width="3" height="1" fill="#26a69a"/>
<rect x="800" y="406" width="1" height="24" fill="#ef5350"/>
<rect x="799" y="406" width="3" height="20" fill="#ef5350"/>
<rect x="804" y="355" width="1" height="53" fill="#26a69a"/>
<rect x="803" y="365" width="3" height="42" fill="#26a69a"/>
<rect x="808" y="331" width="1" height="51" fill="#26a69a"/>
<rect x="807" y="334" width="3" height="29" fill="#26a69a"/>
<rect x="813" y="296" width="1" height="35" fill="#26a69a"/>
<rect x="812" y="302" width="3" height="25" fill="#26a69a"/>
<rect x="817" y="292" width="1" height="28" fill="#26a69a"/>
<rect x="816" y="308" width="3" height="5" fill="#26a69a"/>
<rect x="821" y="300" width="1" height="31" fill="#ef5350"/>
<rect x="820" y="318" width="3" height="7" fill="#ef5350"/>
<rect x="825" y="280" width="1" height="36" fill="#26a69a"/>
<rect x="824" y="286" width="3" height="29" fill="#26a69a"/>
<rect x="830" y="284" width="1" height="14" fill="#ef5350"/>
<rect x="829" y="288" width="3" height="2" fill="#ef5350"/>
<rect x="834" y="290" width="1" height="25" fill="#26a69a"/>
<rect x="833" y="292" width="3" height="18" fill="#26a69a"/>
<rect x="838" y="269" width="1" height="33" fill="#ef5350"/>
<rect x="837" y="286" width="3" height="10" fill="#ef5350"/>
<rect x="842" y="297" width="1" height="15" fill="#ef5350"/>
<rect x="841" y="300" width="3" height="7" fill="#ef5350"/>
<rect x="847" y="254" width="1" height="20" fill="#26a69a"/>
<rect x="846" y="254" width="3" height="18" fill="#26a69a"/>
<rect x="851" y="227" width="1" height="33" fill="#ef5350"/>
<rect x="850" y="245" width="3" height="11" fill="#ef5350"/>
<rect x="855" y="212" width="1" height="36" fill="#26a69a"/>
<rect x="854" y="214" width="3" height="32" fill="#26a69a"/>
<rect x="859" y="201" width="1" height="27" fill="#26a69a"/>
<rect x="858" y="204" width="3" height="16" fill="#26a69a"/>
<rect x="864" y="186" width="1" height="29" fill="#26a69a"/>
<rect x="863" y="199" width="3" height="9" fill="#26a69a"/>
<rect x="868" y="201" width="1" height="28" fill="#ef5350"/>
<rect x="867" y="213" width="3" height="4" fill="#ef5350"/>
<rect x="872" y="207" width="1" height="17" fill="#26a69a"/>
<rect x="871" y="211" width="3" height="6" fill="#26a69a"/>
<rect x="877" y="222" width="1" height="28" fill="#ef5350"/>
<rect x="876" y="222" width="3" height="22" fill="#ef5350"/>
<rect x="881" y="264" width="1" height="37" fill="#ef5350"/>
<rect x="880" y="264" width="3" height="34" fill="#ef5350"/>
<rect x="885" y="285" width="1" height="21" fill="#ef5350"/>
<rect x="884" y="300" width="3" height="4" fill="#ef5350"/>
<rect x="889" y="287" width="1" height="20" fill="#26a69a"/>
<rect x="888" y="295" width="3" height="9" fill="#26a69a"/>
<rect x="894" y="260" width="1" height="30" fill="#26a69a"/>
<rect x="893" y="261" width="3" height="29" fill="#26a69a"/>
<rect x="898" y="259" width="1" height="86" fill="#ef5350"/>
<rect x="897" y="261" width="3" height="84" fill="#ef5350"/>
<rect x="902" y="342" width="1" height="26" fill="#ef5350"/>
<rect x="901" y="358" width="3" height="2" fill="#ef5350"/>
<rect x="906" y="351" width="1" height="47" fill="#ef5350"/>
<rect x="905" y="354" width="3" height="34" fill="#ef5350"/>
<rect x="911" y="369" width="1" height="36" fill="#ef5350"/>
<rect x="910" y="378" width="3" height="27" fill="#ef5350"/>
<rect x="915" y="396" width="1" height="38" fill="#26a69a"/>
<rect x="914" y="398" width="3" height="18" fill="#26a69a"/>
<rect x="919" y="368" width="1" height="64" fill="#ef5350"/>
<rect x="918" y="381" width="3" height="42" fill="#ef5350"/>
<rect x="923" y="412" width="1" height="32" fill="#ef5350"/>
<rect x="922" y="419" width="3" height="14" fill="#ef5350"/>
<rect x="928" y="386" width="1" height="46" fill="#26a69a"/>
<rect x="927" y="389" width="3" height="43" fill="#26a69a"/>
<rect x="932" y="372" width="1" height="38" fill="#26a69a"/>
<rect x="931" y="375" width="3" height="28" fill="#26a69a"/>
<rect x="936" y="334" width="1" height="31" fill="#26a69a"/>
<rect x="935" y="340" width="3" height="25" fill="#26a69a"/>
<rect x="940" y="309" width="1" height="21" fill="#26a69a"/>
<rect x="939" y="312" width="3" height="18" fill="#26a69a"/>
<rect x="945" y="356" width="1" height="69" fill="#ef5350"/>
<rect x="944" y="356" width="3" height="63" fill="#ef5350"/>
<rect x="949" y="401" width="1" height="28" fill="#26a69a"/>
<rect x="948" y="410" width="3" height="4" fill="#26a69a"/>
<rect x="953" y="402" width="1" height="42" fill="#ef5350"/>
<rect x="952" y="418" width="3" height="18" fill="#ef5350"/>
<rect x="957" y="448" width="1" height="26" fill="#ef5350"/>
<rect x="956" y="449" width="3" height="3" fill="#ef5350"/>
<rect x="962" y="435" width="1" height="38" fill="#26a69a"/>
<rect x="961" y="437" width="3" height="31" fill="#26a69a"/>
<rect x="966" y="452" width="1" height="28" fill="#ef5350"/>
<rect x="965" y="452" width="3" height="12" fill="#ef5350"/>
<rect x="970" y="433" width="1" height="69" fill="#ef5350"/>
<rect x="969" y="454" width="3" height="48" fill="#ef5350"/>
<rect x="975" y="501" width="1" height="25" fill="#ef5350"/>
<rect x="974" y="506" width="3" height="15" fill="#ef5350"/>
<rect x="979" y="539" width="1" height="47" fill="#ef5350"/>
<rect x="978" y="539" width="3" height="21" fill="#ef5350"/>
<rect x="983" y="546" width="1" height="41" fill="#ef5350"/>
<rect x="982" y="564" width="3" height="18" fill="#ef5350"/>
<rect x="987" y="544" width="1" height="56" fill="#ef5350"/>
<rect x="986" y="562" width="3" height="24" fill="#ef5350"/>
<rect x="992" y="534" width="1" height="56" fill="#26a69a"/>
<rect x="991" y="544" width="3" height="40" fill="#26a69a"/>
<rect x="996" y="562" width="1" height="46" fill="#ef5350"/>
<rect x="995" y="562" width="3" height="28" fill="#ef5350"/>
<rect x="1000" y="571" width="1" height="51" fill="#ef5350"/>
<rect x="999" y="594" width="3" height="28" fill="#ef5350"/>
<rect x="1004" y="556" width="1" height="54" fill="#26a69a"/>
<rect x="1003" y="568" width="3" height="41" fill="#26a69a"/>
<rect x="1009" y="501" width="1" height="39" fill="#26a69a"/>
<rect x="1008" y="501" width="3" height="39" fill="#26a69a"/>
<rect x="1013" y="492" width="1" height="49" fill="#26a69a"/>
<rect x="1012" y="506" width="3" height="18" fill="#26a69a"/>
<rect x="1017" y="497" width="1" height="34" fill="#ef5350"/>
<rect x="1016" y="512" width="3" height="18" fill="#ef5350"/>
<rect x="1021" y="550" width="1" height="50" fill="#ef5350"/>
<rect x="1020" y="550" width="3" height="41" fill="#ef5350"/>
<rect x="1026" y="584" width="1" height="34" fill="#ef5350"/>
<rect x="1025" y="584" width="3" height="24" fill="#ef5350"/>
<rect x="1030" y="590" width="1" height="42" fill="#ef5350"/>
<rect x="1029" y="616" width="3" height="5" fill="#ef5350"/>
<rect x="1034" y="609" width="1" height="20" fill="#ef5350"/>
<rect x="1033" y="619" width="3" height="9" fill="#ef5350"/>
<rect x="1038" y="564" width="1" height="113" fill="#26a69a"/>
<rect x="1037" y="572" width="3" height="89" fill="#26a69a"/>
<rect x="1043" y="547" width="1" height="79" fill="#ef5350"/>
<rect x="1042" y="560" width="3" height="66" fill="#ef5350"/>
<rect x="1047" y="561" width="1" height="30" fill="#26a69a"/>
<rect x="1046" y="568" width="3" height="23" fill="#26a69a"/>
<rect x="1051" y="518" width="1" height="46" fill="#ef5350"/>
<rect x="1050" y="528" width="3" height="16" fill="#ef5350"/>
<rect x="1055" y="538" width="1" height="36" fill="#ef5350"/>
<rect x="1054" y="553" width="3" height="6" fill="#ef5350"/>
<rect x="1060" y="534" width="1" height="45" fill="#ef5350"/>
<rect x="1059" y="561" width="3" height="14" fill="#ef5350"/>
<rect x="1064" y="521" width="1" height="65" fill="#26a69a"/>
<rect x="1063" y="523" width="3" height="57" fill="#26a69a"/>
<rect x="1068" y="490" width="1" height="40" fill="#26a69a"/>
<rect x="1067" y="497" width="3" height="22" fill="#26a69a"/>
<rect x="1073" y="459" width="1" height="37" fill="#26a69a"/>
<rect x="1072" y="460" width="3" height="36" fill="#26a69a"/>
<rect x="1077" y="446" width="1" height="36" fill="#26a69a"/>
<rect x="1076" y="478" width="3" height="3" fill="#26a69a"/>
<rect x="1081" y="460" width="1" height="32" fill="#ef5350"/>
<rect x="1080" y="474" width="3" height="18" fill="#ef5350"/>
<rect x="1085" y="434" width="1" height="58" fill="#26a69a"/>
<rect x="1084" y="436" width="3" height="56" fill="#26a69a"/>
<rect x="1090" y="441" width="1" height="18" fill="#ef5350"/>
<rect x="1089" y="448" width="3" height="6" fill="#ef5350"/>
<rect x="1094" y="430" width="1" height="40" fill="#ef5350"/>
<rect x="1093" y="436" width="3" height="28" fill="#ef5350"/>
<rect x="1098" y="440" width="1" height="80" fill="#ef5350"/>
<rect x="1097" y="464" width="3" height="56" fill="#ef5350"/>
<rect x="1102" y="525" width="1" height="31" fill="#ef5350"/>
<rect x="1101" y="535" width="3" height="9" fill="#ef5350"/>
<rect x="1107" y="498" width="1" height="52" fill="#26a69a"/>
<rect x="1106" y="513" width="3" height="23" fill="#26a69a"/>
<rect x="1111" y="488" width="1" height="29" fill="#26a69a"/>
<rect x="1110" y="492" width="3" height="16" fill="#26a69a"/>
<rect x="1115" y="461" width="1" height="43" fill="#26a69a"/>
<rect x="1114" y="479" width="3" height="7" fill="#26a69a"/>
<rect x="1119" y="486" width="1" height="42" fill="#ef5350"/>
<rect x="1118" y="490" width="3" height="38" fill="#ef5350"/>
<rect x="1124" y="402" width="1" height="59" fill="#26a69a"/>
<rect x="1123" y="404" width="3" height="57" fill="#26a69a"/>
<rect x="1128" y="378" width="1" height="31" fill="#26a69a"/>
<rect x="1127" y="382" width="3" height="19" fill="#26a69a"/>
<rect x="1132" y="374" width="1" height="31" fill="#ef5350"/>
<rect x="1131" y="391" width="3" height="14" fill="#ef5350"/>
<rect x="1136" y="361" width="1" height="44" fill="#ef5350"/>
<rect x="1135" y="374" width="3" height="10" fill="#ef5350"/>
<rect x="1141" y="388" width="1" height="17" fill="#ef5350"/>
<rect x="1140" y="392" width="3" height="12" fill="#ef5350"/>
<rect x="1145" y="405" width="1" height="28" fill="#26a69a"/>
<rect x="1144" y="409" width="3" height="19" fill="#26a69a"/>
<rect x="1149" y="390" width="1" height="25" fill="#ef5350"/>
<rect x="1148" y="398" width="3" height="2" fill="#ef5350"/>
<rect x="1154" y="401" width="1" height="16" fill="#ef5350"/>
<rect x="1153" y="404" width="3" height="5" fill="#ef5350"/>
<rect x="1158" y="375" width="1" height="29" fill="#26a69a"/>
<rect x="1157" y="376" width="3" height="24" fill="#26a69a"/>
<rect x="1162" y="358" width="1" height="21" fill="#26a69a"/>
<rect x="1161" y="362" width="3" height="17" fill="#26a69a"/>
<rect x="1166" y="358" width="1" height="8" fill="#26a69a"/>
<rect x="1165" y="362" width="3" height="4" fill="#26a69a"/>
<rect x="1171" y="371" width="1" height="33" fill="#ef5350"/>
<rect x="1170" y="374" width="3" height="26" fill="#ef5350"/>
<rect x="1175" y="392" width="1" height="23" fill="#ef5350"/>
<rect x="1174" y="399" width="3" height="5" fill="#ef5350"/>
<rect x="1179" y="330" width="1" height="84" fill="#26a69a"/>
<rect x="1178" y="331" width="3" height="73" fill="#26a69a"/>
<rect x="1183" y="319" width="1" height="30" fill="#ef5350"/>
<rect x="1182" y="324" width="3" height="9" fill="#ef5350"/>
<rect x="1188" y="330" width="1" height="32" fill="#26a69a"/>
<rect x="1187" y="336" width="3" height="18" fill="#26a69a"/>
<rect x="1192" y="348" width="1" height="40" fill="#ef5350"/>
<rect x="1191" y="348" width="3" height="32" fill="#ef5350"/>
<rect x="1196" y="378" width="1" height="48" fill="#ef5350"/>
<rect x="1195" y="380" width="3" height="33" fill="#ef5350"/>
<rect x="1200" y="402" width="1" height="22" fill="#26a69a"/>
<rect x="1199" y="410" width="3" height="2" fill="#26a69a"/>
<rect x="1205" y="394" width="1" height="22" fill="#26a69a"/>
<rect x="1204" y="400" width="3" height="9" fill="#26a69a"/>
<rect x="1209" y="391" width="1" height="27" fill="#ef5350"/>
<rect x="1208" y="405" width="3" height="11" fill="#ef5350"/>
<rect x="1213" y="383" width="1" height="33" fill="#26a69a"/>
<rect x="1212" y="384" width="3" height="31" fill="#26a69a"/>
<rect x="1217" y="319" width="1" height="63" fill="#ef5350"/>
<rect x="1216" y="338" width="3" height="30" fill="#ef5350"/>
<rect x="1222" y="347" width="1" height="51" fill="#ef5350"/>
<rect x="1221" y="370" width="3" height="12" fill="#ef5350"/>
<rect x="1226" y="403" width="1" height="46" fill="#ef5350"/>
<rect x="1225" y="403" width="3" height="38" fill="#ef5350"/>
<rect x="1230" y="443" width="1" height="29" fill="#ef5350"/>
<rect x="1229" y="443" width="3" height="23" fill="#ef5350"/>
<rect x="1234" y="464" width="1" height="32" fill="#ef5350"/>
<rect x="1233" y="464" width="3" height="22" fill="#ef5350"/>
<rect x="1239" y="474" width="1" height="24" fill="#26a69a"/>
<rect x="1238" y="483" width="3" height="7" fill="#26a69a"/>
<rect x="1243" y="442" width="1" height="32" fill="#26a69a"/>
<rect x="1242" y="448" width="3" height="24" fill="#26a69a"/>
<rect x="1247" y="465" width="1" height="51" fill="#ef5350"/>
<rect x="1246" y="465" width="3" height="17" fill="#ef5350"/>
<rect x="1252" y="470" width="1" height="29" fill="#26a69a"/>
<rect x="1251" y="470" width="3" height="16" fill="#26a69a"/>
<rect x="1256" y="468" width="1" height="20" fill="#ef5350"/>
<rect x="1255" y="470" width="3" height="10" fill="#ef5350"/>
<rect x="1260" y="468" width="1" height="40" fill="#ef5350"/>
<rect x="1259" y="478" width="3" height="28" fill="#ef5350"/>
<rect x="1264" y="462" width="1" height="32" fill="#26a69a"/>
<rect x="1263" y="466" width="3" height="26" fill="#26a69a"/>
<rect x="1269" y="470" width="1" height="26" fill="#26a69a"/>
<rect x="1268" y="472" width="3" height="8" fill="#26a69a"/>
<rect x="1273" y="450" width="1" height="48" fill="#ef5350"/>
<rect x="1272" y="465" width="3" height="17" fill="#ef5350"/>
<rect x="1277" y="454" width="1" height="32" fill="#26a69a"/>
<rect x="1276" y="464" width="3" height="9" fill="#26a69a"/>
<rect x="1281" y="472" width="1" height="22" fill="#ef5350"/>
<rect x="1280" y="472" width="3" height="19" fill="#ef5350"/>
<rect x="1286" y="432" width="1" height="58" fill="#26a69a"/>
<rect x="1285" y="440" width="3" height="42" fill="#26a69a"/>
<rect x="1290" y="407" width="1" height="41" fill="#ef5350"/>
<rect x="1289" y="430" width="3" height="12" fill="#ef5350"/>
<rect x="1294" y="426" width="1" height="24" fill="#26a69a"/>
<rect x="1293" y="426" width="3" height="19" fill="#26a69a"/>
<rect x="1298" y="392" width="1" height="27" fill="#26a69a"/>
<rect x="1297" y="396" width="3" height="23" fill="#26a69a"/>
<rect x="1303" y="380" width="1" height="35" fill="#26a69a"/>
<rect x="1302" y="388" width="3" height="4" fill="#26a69a"/>
<rect x="1307" y="376" width="1" height="33" fill="#26a69a"/>
<rect x="1306" y="378" width="3" height="25" fill="#26a69a"/>
<rect x="1311" y="370" width="1" height="17" fill="#ef5350"/>
<rect x="1310" y="379" width="3" height="6" fill="#ef5350"/>
<rect x="1315" y="370" width="1" height="52" fill="#ef5350"/>
<rect x="1314" y="377" width="3" height="44" fill="#ef5350"/>
<rect x="1320" y="424" width="1" height="21" fill="#ef5350"/>
<rect x="1319" y="430" width="3" height="9" fill="#ef5350"/>
<line x1="714.3" y1="185.5" x2="966" y2="185.5" stroke="#2196f3" stroke-width="1"/>
<line x1="714.3" y1="588.5" x2="966" y2="588.5" stroke="#2196f3" stroke-width="1.6"/>
<line x1="840.5" y1="186" x2="840.5" y2="588" stroke="#2196f3" stroke-width="1"/>
<path d="M835.5,190.5 L840.5,185.8 L845.5,190.5" fill="none" stroke="#2196f3" stroke-width="1"/>
<line x1="1132" y1="319.5" x2="1466" y2="319.5" stroke="#3565f5" stroke-width="1.0"/>
<line x1="1281" y1="407.1" x2="1466" y2="407.1" stroke="#3565f5" stroke-width="1.5"/>
<line x1="1296" y1="426.3" x2="1466" y2="426.3" stroke="#3565f5" stroke-width="1.5"/>
<line x1="1110.5" y1="528.9" x2="1466" y2="528.9" stroke="#3565f5" stroke-width="1.8"/>
<line x1="1055" y1="586.9" x2="1466" y2="586.9" stroke="#3565f5" stroke-width="1.8"/>
<rect x="774.2" y="152.3" width="131.5" height="23.6" rx="3.5" fill="#2e8de6"/>
<text x="840" y="168.3" font-size="12" fill="#fff" text-anchor="middle" textLength="114.5" lengthAdjust="spacingAndGlyphs" stroke="#fff" stroke-width="0.3">686.65 (18.85%) 68665</text>
<text x="879" y="250.6" font-size="14.5" fill="#3c3a9e" textLength="24.5" lengthAdjust="spacingAndGlyphs">gap</text>
<text x="421" y="627" font-size="10.5" fill="#2962ff" textLength="100" lengthAdjust="spacingAndGlyphs">0.505897440237202</text>
<circle cx="1320.3" cy="701.4" r="10.6" fill="#fff"/>
<circle cx="1320.3" cy="701.4" r="9.2" fill="#fff" stroke="#9c27b0" stroke-width="1.4"/>
<path d="M1323.3,696.2 L1316.5,701.7 L1319.9,701.7 L1317.2,706.7 L1324.2,701.1 L1320.8,701.1 Z" fill="#9c27b0" stroke="#9c27b0" stroke-width="0.4" stroke-linejoin="round"/>
</g>
<g clip-path="url(#rp)">
<rect x="10" y="714.2" width="1456" height="113.8" fill="rgba(126,87,194,0.1)"/>
<line x1="20.5" y1="714" x2="20.5" y2="840" stroke="rgba(42,46,57,0.055)"/>
<line x1="109.5" y1="714" x2="109.5" y2="840" stroke="rgba(42,46,57,0.055)"/>
<line x1="203.5" y1="714" x2="203.5" y2="840" stroke="rgba(42,46,57,0.055)"/>
<line x1="288.5" y1="714" x2="288.5" y2="840" stroke="rgba(42,46,57,0.055)"/>
<line x1="369.5" y1="714" x2="369.5" y2="840" stroke="rgba(42,46,57,0.055)"/>
<line x1="467.5" y1="714" x2="467.5" y2="840" stroke="rgba(42,46,57,0.055)"/>
<line x1="553.5" y1="714" x2="553.5" y2="840" stroke="rgba(42,46,57,0.055)"/>
<line x1="642.5" y1="714" x2="642.5" y2="840" stroke="rgba(42,46,57,0.055)"/>
<line x1="732.5" y1="714" x2="732.5" y2="840" stroke="rgba(42,46,57,0.055)"/>
<line x1="817.5" y1="714" x2="817.5" y2="840" stroke="rgba(42,46,57,0.055)"/>
<line x1="915.5" y1="714" x2="915.5" y2="840" stroke="rgba(42,46,57,0.055)"/>
<line x1="1004.5" y1="714" x2="1004.5" y2="840" stroke="rgba(42,46,57,0.055)"/>
<line x1="1094.5" y1="714" x2="1094.5" y2="840" stroke="rgba(42,46,57,0.055)"/>
<line x1="1183.5" y1="714" x2="1183.5" y2="840" stroke="rgba(42,46,57,0.055)"/>
<line x1="1273.5" y1="714" x2="1273.5" y2="840" stroke="rgba(42,46,57,0.055)"/>
<line x1="1358.5" y1="714" x2="1358.5" y2="840" stroke="rgba(42,46,57,0.055)"/>
<line x1="1439.5" y1="714" x2="1439.5" y2="840" stroke="rgba(42,46,57,0.055)"/>
<line x1="10" y1="752.5" x2="1466" y2="752.5" stroke="rgba(42,46,57,0.055)"/>
<line x1="10" y1="790.5" x2="1466" y2="790.5" stroke="rgba(42,46,57,0.055)"/>
<line x1="9.8" y1="714.2" x2="1466" y2="714.2" stroke="#787b86" stroke-width="1.1" stroke-dasharray="4.6,5.87" opacity="1"/>
<line x1="9.8" y1="771.1" x2="1466" y2="771.1" stroke="#787b86" stroke-width="1.1" stroke-dasharray="4.6,5.87" opacity="0.5"/>
<line x1="9.8" y1="828.0" x2="1466" y2="828.0" stroke="#787b86" stroke-width="1.1" stroke-dasharray="4.6,5.87" opacity="1"/>
<polyline points="11.2,753.0 22.5,743.8 33.8,737.0 45.0,733.8 56.2,733.2 67.5,733.8 80.0,733.2 91.2,735.5 100.0,742.5 110.0,751.2 122.5,760.0 135.0,765.5 147.5,770.0 160.0,770.0 170.0,767.5 182.5,763.0 195.0,761.8 207.5,759.2 217.5,760.5 230.0,760.5 240.0,763.0 250.0,770.0 260.0,780.0 270.0,790.0 277.5,795.0 287.5,795.8 300.0,796.2 310.0,793.8 320.0,787.5 330.0,780.5 337.5,778.0 345.0,780.0 352.5,783.8 362.5,785.0 380.0,786.8 392.5,788.8 405.0,788.2 417.5,784.5 430.0,778.8 442.5,773.8 452.5,766.2 462.5,759.5 472.5,754.5 482.5,755.0 492.5,757.5 505.0,762.5 517.5,768.8 530.0,776.2 542.5,782.5 555.0,786.2 567.5,788.0 580.0,793.8 590.0,795.8 600.0,793.8 610.0,794.5 620.0,795.5 630.0,793.8 640.0,787.5 650.0,782.5 660.0,778.8 670.0,775.5 680.0,777.0 690.0,782.5 700.0,786.2 710.0,788.8 720.0,790.5 727.5,791.8 737.5,788.8 750.0,782.5 760.0,779.5 772.5,779.2 785.0,773.8 797.5,770.0 807.5,767.5 817.5,761.2 827.5,755.0 837.5,750.0 847.5,747.0 857.5,741.2 865.0,739.2 872.5,739.2 882.5,742.5 892.5,746.2 902.5,752.5 912.5,761.2 922.5,772.5 930.0,780.0 937.5,782.0 945.0,783.0 955.0,786.8 965.0,787.5 975.0,788.8 985.0,791.8 995.0,796.2 1002.5,800.5 1010.0,800.0 1017.5,798.2 1027.5,798.8 1035.0,798.0 1045.0,793.8 1055.0,788.8 1065.0,784.5 1075.0,781.2 1085.0,775.5 1095.0,769.5 1110.0,766.2 1120.0,763.8 1130.0,762.5 1142.5,761.2 1152.5,761.2 1162.5,757.0 1172.5,754.5 1182.5,752.5 1190.0,753.0 1200.0,755.8 1210.0,757.5 1220.0,759.5 1230.0,763.8 1240.0,770.0 1250.0,775.0 1260.0,778.0 1270.0,780.5 1277.5,783.0 1282.5,783.8 1290.0,781.2 1297.5,777.5 1305.0,773.8 1312.5,770.0 1320.0,768.0" fill="none" stroke="#f9e34d" stroke-width="1.25" stroke-linejoin="round"/>
<polyline points="11.2,737.0 15.5,735.5 20.0,733.8 24.2,728.8 28.2,723.8 32.5,721.2 37.0,720.5 40.8,720.5 45.0,728.8 49.2,745.0 53.5,744.5 58.0,737.0 62.0,736.5 66.2,733.0 70.5,738.8 75.0,735.5 79.2,739.5 83.8,746.2 88.0,743.8 92.5,741.2 96.2,781.2 100.8,763.8 105.0,784.5 109.2,794.5 113.2,778.8 117.5,785.0 121.8,771.2 126.2,757.5 130.0,755.5 134.5,762.0 138.8,755.5 143.0,762.5 147.5,770.5 151.2,758.2 155.5,765.5 160.0,774.5 164.2,782.0 168.2,770.0 172.5,762.5 177.0,757.0 181.5,749.5 185.8,750.0 190.0,749.2 194.5,752.5 198.8,755.0 203.0,750.5 207.0,750.8 210.8,770.8 215.0,772.0 219.5,775.5 223.8,776.8 228.0,768.0 232.5,765.0 236.8,778.0 240.8,778.8 245.0,791.2 249.2,798.8 253.8,805.0 258.0,814.5 262.5,811.2 266.8,816.2 270.8,817.0 275.0,819.2 279.2,797.5 283.8,777.5 288.0,772.0 292.0,765.5 296.8,782.0 300.8,778.0 305.0,780.5 309.5,773.0 313.8,763.8 318.0,776.2 322.0,787.0 326.2,789.2 330.5,778.0 334.5,777.5 338.8,788.8 343.0,792.5 347.5,798.0 352.0,805.0 356.2,791.2 360.5,779.2 364.5,781.2 368.8,788.0 373.2,776.2 377.5,778.8 382.0,783.8 386.2,796.2 390.5,799.5 395.0,783.2 399.2,785.5 403.2,790.5 407.5,793.8 411.8,780.0 416.2,768.8 420.5,761.2 424.5,757.0 428.8,757.0 433.0,752.0 437.0,760.0 441.8,753.8 445.8,750.8 450.0,747.5 454.2,741.8 458.8,747.5 463.0,758.2 467.0,757.0 471.2,752.5 475.5,761.2 480.0,768.8 484.2,766.2 488.2,768.8 492.5,778.8 496.8,781.2 500.8,773.2 505.0,780.8 509.2,781.2 513.8,769.2 518.0,770.0 522.0,778.8 526.2,795.5 530.8,790.8 535.0,803.0 539.5,801.2 543.8,783.8 548.2,798.8 552.5,795.0 557.0,791.2 560.8,775.5 565.5,789.5 569.5,792.0 574.2,802.0 578.0,800.5 582.5,805.5 586.8,805.5 590.5,791.8 595.0,793.0 598.8,782.5 603.2,795.8 607.5,798.0 612.0,798.0 616.2,788.2 620.8,790.8 625.0,784.5 629.2,775.5 633.2,763.8 637.5,766.2 641.8,770.5 646.2,762.5 650.5,770.5 654.5,769.2 658.8,764.2 663.2,770.0 667.5,782.5 671.8,794.2 676.2,804.5 680.0,805.5 684.5,797.5 688.8,806.2 693.2,805.0 697.5,792.5 701.8,792.5 705.8,787.0 710.0,773.8 714.2,775.0 718.8,782.5 723.0,783.2 727.5,786.2 731.8,780.8 735.8,780.0 744.2,769.2 748.2,770.0 752.5,775.5 757.0,781.8 761.2,784.2 765.5,785.8 769.5,772.5 773.8,777.0 778.0,761.2 782.0,758.2 786.8,753.0 790.8,759.2 795.0,758.8 799.5,768.0 803.8,753.0 808.0,747.0 812.0,740.8 816.2,742.5 820.5,748.8 825.0,741.8 829.2,741.8 833.2,743.2 837.5,744.5 842.5,748.8 846.8,737.5 850.0,738.0 855.0,730.0 858.8,728.0 863.2,727.0 867.5,735.8 872.0,735.0 876.2,751.2 880.8,768.8 884.5,770.8 889.2,768.0 893.0,757.5 897.5,782.5 902.0,787.0 906.2,791.8 910.5,795.8 915.0,793.0 919.2,798.2 923.8,800.5 927.5,785.0 931.8,778.8 935.8,770.0 940.0,762.0 944.2,787.5 948.2,785.0 952.5,790.0 957.0,793.8 961.2,789.2 965.8,795.0 970.0,801.8 974.2,805.5 978.8,810.8 983.0,813.8 987.0,814.5 991.2,798.8 995.5,805.5 1000.0,811.2 1004.2,793.8 1008.2,777.0 1012.5,777.5 1017.0,783.0 1020.8,793.8 1025.0,796.2 1029.2,798.8 1033.8,800.0 1037.5,784.2 1042.5,793.2 1046.8,779.5 1050.8,774.2 1055.0,777.5 1059.5,780.8 1063.8,768.8 1068.0,763.2 1072.0,756.2 1076.2,759.5 1080.5,763.8 1085.5,753.0 1089.2,757.0 1093.8,759.5 1097.5,773.2 1103.0,778.0 1107.0,771.2 1110.8,766.2 1115.0,763.8 1119.2,775.0 1123.8,751.2 1127.5,748.2 1131.8,753.0 1136.2,749.5 1140.5,753.8 1144.5,756.2 1149.2,754.5 1153.2,757.0 1157.5,751.2 1162.0,748.0 1166.2,748.0 1170.5,760.0 1175.0,760.8 1178.8,745.5 1183.2,746.2 1187.5,747.5 1191.2,761.2 1195.5,770.0 1199.5,771.8 1204.2,767.0 1208.2,771.8 1212.5,763.8 1216.8,758.8 1221.2,763.2 1225.0,779.5 1229.5,785.0 1234.2,790.5 1238.2,789.5 1242.5,778.2 1247.0,786.2 1251.2,782.5 1255.8,784.5 1260.0,791.2 1264.2,778.2 1268.8,780.0 1273.0,782.5 1277.0,776.2 1281.2,783.2 1285.5,768.2 1289.5,768.2 1293.8,763.8 1298.2,755.5 1302.5,753.2 1306.8,750.5 1311.2,753.0 1315.5,767.5 1320.0,773.0" fill="none" stroke="#7e57c2" stroke-width="1.1" stroke-linejoin="round"/>
</g>
<rect x="9.5" y="25.5" width="1517" height="841" fill="none" stroke="#e0e3eb"/>
<line x1="1466.5" y1="26" x2="1466.5" y2="866" stroke="#e0e3eb"/>
<line x1="10" y1="840.5" x2="1526" y2="840.5" stroke="#e0e3eb"/>
<line x1="10" y1="713.5" x2="1526" y2="713.5" stroke="#e0e3eb"/>
<text x="10" y="18.2" font-size="12.2" fill="#1f232d" text-anchor="start" font-weight="normal" textLength="338.5" lengthAdjust="spacingAndGlyphs">ivanbrian9 published on TradingView.com, Jan 20, 2023 14:05 UTC</text>
<defs><clipPath id="ra"><rect x="1467" y="714" width="59" height="126"/></clipPath></defs>
<text x="1475.3" y="42.6" font-size="12" fill="#1f232d" text-anchor="start" font-weight="normal" textLength="19.2" lengthAdjust="spacingAndGlyphs">USD</text>
<text x="1475.3" y="706.3" font-size="12" fill="#1f232d" text-anchor="start" font-weight="normal" textLength="39.5" lengthAdjust="spacingAndGlyphs">3450.00</text>
<text x="1475.3" y="676.9" font-size="12" fill="#1f232d" text-anchor="start" font-weight="normal" textLength="39.5" lengthAdjust="spacingAndGlyphs">3500.00</text>
<text x="1475.3" y="647.5" font-size="12" fill="#1f232d" text-anchor="start" font-weight="normal" textLength="39.5" lengthAdjust="spacingAndGlyphs">3550.00</text>
<text x="1475.3" y="618.1" font-size="12" fill="#1f232d" text-anchor="start" font-weight="normal" textLength="39.5" lengthAdjust="spacingAndGlyphs">3600.00</text>
<text x="1475.3" y="588.6999999999999" font-size="12" fill="#1f232d" text-anchor="start" font-weight="normal" textLength="39.5" lengthAdjust="spacingAndGlyphs">3650.00</text>
<text x="1475.3" y="559.3" font-size="12" fill="#1f232d" text-anchor="start" font-weight="normal" textLength="39.5" lengthAdjust="spacingAndGlyphs">3700.00</text>
<text x="1475.3" y="529.9" font-size="12" fill="#1f232d" text-anchor="start" font-weight="normal" textLength="39.5" lengthAdjust="spacingAndGlyphs">3750.00</text>
<text x="1475.3" y="500.5" font-size="12" fill="#1f232d" text-anchor="start" font-weight="normal" textLength="39.5" lengthAdjust="spacingAndGlyphs">3800.00</text>
<text x="1475.3" y="471.09999999999997" font-size="12" fill="#1f232d" text-anchor="start" font-weight="normal" textLength="39.5" lengthAdjust="spacingAndGlyphs">3850.00</text>
<text x="1475.3" y="441.7" font-size="12" fill="#1f232d" text-anchor="start" font-weight="normal" textLength="39.5" lengthAdjust="spacingAndGlyphs">3900.00</text>
<text x="1475.3" y="412.29999999999995" font-size="12" fill="#1f232d" text-anchor="start" font-weight="normal" textLength="39.5" lengthAdjust="spacingAndGlyphs">3950.00</text>
<text x="1475.3" y="382.9" font-size="12" fill="#1f232d" text-anchor="start" font-weight="normal" textLength="39.5" lengthAdjust="spacingAndGlyphs">4000.00</text>
<text x="1475.3" y="353.5" font-size="12" fill="#1f232d" text-anchor="start" font-weight="normal" textLength="39.5" lengthAdjust="spacingAndGlyphs">4050.00</text>
<text x="1475.3" y="324.09999999999997" font-size="12" fill="#1f232d" text-anchor="start" font-weight="normal" textLength="39.5" lengthAdjust="spacingAndGlyphs">4100.00</text>
<text x="1475.3" y="294.7" font-size="12" fill="#1f232d" text-anchor="start" font-weight="normal" textLength="39.5" lengthAdjust="spacingAndGlyphs">4150.00</text>
<text x="1475.3" y="265.3" font-size="12" fill="#1f232d" text-anchor="start" font-weight="normal" textLength="39.5" lengthAdjust="spacingAndGlyphs">4200.00</text>
<text x="1475.3" y="235.89999999999998" font-size="12" fill="#1f232d" text-anchor="start" font-weight="normal" textLength="39.5" lengthAdjust="spacingAndGlyphs">4250.00</text>
<text x="1475.3" y="206.5" font-size="12" fill="#1f232d" text-anchor="start" font-weight="normal" textLength="39.5" lengthAdjust="spacingAndGlyphs">4300.00</text>
<text x="1475.3" y="177.1" font-size="12" fill="#1f232d" text-anchor="start" font-weight="normal" textLength="39.5" lengthAdjust="spacingAndGlyphs">4350.00</text>
<text x="1475.3" y="147.7" font-size="12" fill="#1f232d" text-anchor="start" font-weight="normal" textLength="39.5" lengthAdjust="spacingAndGlyphs">4400.00</text>
<text x="1475.3" y="118.29999999999998" font-size="12" fill="#1f232d" text-anchor="start" font-weight="normal" textLength="39.5" lengthAdjust="spacingAndGlyphs">4450.00</text>
<text x="1475.3" y="88.89999999999999" font-size="12" fill="#1f232d" text-anchor="start" font-weight="normal" textLength="39.5" lengthAdjust="spacingAndGlyphs">4500.00</text>
<text x="1475.3" y="59.5" font-size="12" fill="#1f232d" text-anchor="start" font-weight="normal" textLength="39.5" lengthAdjust="spacingAndGlyphs">4550.00</text>
<g clip-path="url(#ra)">
<text x="1475.3" y="718.55" font-size="12" fill="#1f232d" text-anchor="start" font-weight="normal" textLength="28.3" lengthAdjust="spacingAndGlyphs">80.00</text>
<text x="1475.3" y="756.4699999999999" font-size="12" fill="#1f232d" text-anchor="start" font-weight="normal" textLength="28.3" lengthAdjust="spacingAndGlyphs">60.00</text>
<text x="1475.3" y="794.39" font-size="12" fill="#1f232d" text-anchor="start" font-weight="normal" textLength="28.3" lengthAdjust="spacingAndGlyphs">40.00</text>
<text x="1475.3" y="832.31" font-size="12" fill="#1f232d" text-anchor="start" font-weight="normal" textLength="28.3" lengthAdjust="spacingAndGlyphs">20.00</text>
</g>
<path d="M1465.5,311.5 h54 a2,2 0 0 1 2,2 v12 a2,2 0 0 1 -2,2 h-54 z" fill="#2962ff"/>
<text x="1475.3" y="323.8648800000001" font-size="12" fill="#fff" text-anchor="start" font-weight="normal" textLength="39.5" lengthAdjust="spacingAndGlyphs" stroke="#fff" stroke-width="0.35">4100.74</text>
<path d="M1465.5,399.5 h54 a2,2 0 0 1 2,2 v12 a2,2 0 0 1 -2,2 h-54 z" fill="#2962ff"/>
<text x="1475.3" y="411.88848" font-size="12" fill="#fff" text-anchor="start" font-weight="normal" textLength="39.5" lengthAdjust="spacingAndGlyphs" stroke="#fff" stroke-width="0.35">3951.04</text>
<path d="M1465.5,418.1 h54 a2,2 0 0 1 2,2 v12 a2,2 0 0 1 -2,2 h-54 z" fill="#2962ff"/>
<text x="1475.3" y="430.5045599999999" font-size="12" fill="#fff" text-anchor="start" font-weight="normal" textLength="39.5" lengthAdjust="spacingAndGlyphs" stroke="#fff" stroke-width="0.35">3919.38</text>
<path d="M1465.5,520.6 h54 a2,2 0 0 1 2,2 v12 a2,2 0 0 1 -2,2 h-54 z" fill="#2962ff"/>
<text x="1475.3" y="533.04" font-size="12" fill="#fff" text-anchor="start" font-weight="normal" textLength="39.5" lengthAdjust="spacingAndGlyphs" stroke="#fff" stroke-width="0.35">3745.00</text>
<path d="M1465.5,578.7 h54 a2,2 0 0 1 2,2 v12 a2,2 0 0 1 -2,2 h-54 z" fill="#2962ff"/>
<text x="1475.3" y="591.0873599999998" font-size="12" fill="#fff" text-anchor="start" font-weight="normal" textLength="39.5" lengthAdjust="spacingAndGlyphs" stroke="#fff" stroke-width="0.35">3646.28</text>
<text x="20.45" y="857.4" font-size="11.3" fill="#1f232d" text-anchor="middle" font-weight="normal">Nov</text>
<text x="109.9415" y="857.4" font-size="11.3" fill="#1f232d" text-anchor="middle" font-weight="normal">Dec</text>
<text x="203.69449999999998" y="857.4" font-size="12" fill="#1f232d" text-anchor="middle" font-weight="bold">2022</text>
<text x="288.92449999999997" y="857.4" font-size="11.3" fill="#1f232d" text-anchor="middle" font-weight="normal">Feb</text>
<text x="369.893" y="857.4" font-size="11.3" fill="#1f232d" text-anchor="middle" font-weight="normal">Mar</text>
<text x="467.90749999999997" y="857.4" font-size="11.3" fill="#1f232d" text-anchor="middle" font-weight="normal">Apr</text>
<text x="553.1375" y="857.4" font-size="11.3" fill="#1f232d" text-anchor="middle" font-weight="normal">May</text>
<text x="642.629" y="857.4" font-size="11.3" fill="#1f232d" text-anchor="middle" font-weight="normal">Jun</text>
<text x="732.1205" y="857.4" font-size="11.3" fill="#1f232d" text-anchor="middle" font-weight="normal">Jul</text>
<text x="817.3505" y="857.4" font-size="11.3" fill="#1f232d" text-anchor="middle" font-weight="normal">Aug</text>
<text x="915.365" y="857.4" font-size="11.3" fill="#1f232d" text-anchor="middle" font-weight="normal">Sep</text>
<text x="1004.8565" y="857.4" font-size="11.3" fill="#1f232d" text-anchor="middle" font-weight="normal">Oct</text>
<text x="1094.348" y="857.4" font-size="11.3" fill="#1f232d" text-anchor="middle" font-weight="normal">Nov</text>
<text x="1183.8395" y="857.4" font-size="11.3" fill="#1f232d" text-anchor="middle" font-weight="normal">Dec</text>
<text x="1273.331" y="857.4" font-size="12" fill="#1f232d" text-anchor="middle" font-weight="bold">2023</text>
<text x="1358.561" y="857.4" font-size="11.3" fill="#1f232d" text-anchor="middle" font-weight="normal">Feb</text>
<text x="1439.5295" y="857.4" font-size="11.3" fill="#1f232d" text-anchor="middle" font-weight="normal">Mar</text>
<text x="17.2" y="44.3" font-size="12" fill="#1f232d" text-anchor="start" font-weight="normal" textLength="112.5" lengthAdjust="spacingAndGlyphs">S&amp;P 500 Index, 1D, SP</text>
<text x="136.7" y="44.3" font-size="12" fill="#1f232d" text-anchor="start" font-weight="normal" textLength="8" lengthAdjust="spacingAndGlyphs">O</text>
<text x="144.7" y="44.3" font-size="12" fill="#ef5350" text-anchor="start" font-weight="normal" textLength="40" lengthAdjust="spacingAndGlyphs">3911.84</text>
<text x="191.7" y="44.3" font-size="12" fill="#1f232d" text-anchor="start" font-weight="normal" textLength="7.5" lengthAdjust="spacingAndGlyphs">H</text>
<text x="199.2" y="44.3" font-size="12" fill="#ef5350" text-anchor="start" font-weight="normal" textLength="40" lengthAdjust="spacingAndGlyphs">3922.94</text>
<text x="246.3" y="44.3" font-size="12" fill="#1f232d" text-anchor="start" font-weight="normal" textLength="6" lengthAdjust="spacingAndGlyphs">L</text>
<text x="252.3" y="44.3" font-size="12" fill="#ef5350" text-anchor="start" font-weight="normal" textLength="40" lengthAdjust="spacingAndGlyphs">3885.54</text>
<text x="299.5" y="44.3" font-size="12" fill="#1f232d" text-anchor="start" font-weight="normal" textLength="7.5" lengthAdjust="spacingAndGlyphs">C</text>
<text x="307" y="44.3" font-size="12" fill="#ef5350" text-anchor="start" font-weight="normal" textLength="40" lengthAdjust="spacingAndGlyphs">3898.86</text>
<text x="353.5" y="44.3" font-size="12" fill="#ef5350" text-anchor="start" font-weight="normal" textLength="80.5" lengthAdjust="spacingAndGlyphs">−29.99 (−0.76%)</text>
<text x="17.2" y="59.9" font-size="12" fill="#1f232d" text-anchor="start" font-weight="normal" textLength="115.6" lengthAdjust="spacingAndGlyphs">MA · 1D (200, close, 0)</text>
<text x="140" y="59.9" font-size="12" fill="#388e3c" text-anchor="start" font-weight="normal" textLength="40" lengthAdjust="spacingAndGlyphs">3971.92</text>
<text x="17.2" y="76.1" font-size="12" fill="#1f232d" text-anchor="start" font-weight="normal" textLength="132.8" lengthAdjust="spacingAndGlyphs">MA (100, close, 0, SMA, 5)</text>
<text x="157.5" y="76.1" font-size="12" fill="#2962ff" text-anchor="start" font-weight="normal" textLength="39.5" lengthAdjust="spacingAndGlyphs">3865.27</text>
<text x="17.2" y="92.4" font-size="12" fill="#1f232d" text-anchor="start" font-weight="normal" textLength="193.6" lengthAdjust="spacingAndGlyphs">VRVP (Number Of Rows, 24, Total, 70)</text>
<text x="218.7" y="92.4" font-size="12" fill="#c4c6cc" text-anchor="start" font-weight="normal" textLength="40" lengthAdjust="spacingAndGlyphs">52.477B</text>
<text x="17.2" y="108.6" font-size="12" fill="#1f232d" text-anchor="start" font-weight="normal" textLength="123.6" lengthAdjust="spacingAndGlyphs">LinReg (200, close, 3, 3)</text>
<text x="17.2" y="124.9" font-size="12" fill="#1f232d" text-anchor="start" font-weight="normal" textLength="126.8" lengthAdjust="spacingAndGlyphs">MA (21, close, 0, SMA, 5)</text>
<text x="152" y="124.9" font-size="12" fill="#ff9800" text-anchor="start" font-weight="normal" textLength="39.5" lengthAdjust="spacingAndGlyphs">3878.49</text>
<text x="17.2" y="732.0" font-size="12" fill="#1f232d" text-anchor="start" font-weight="normal" textLength="133.5" lengthAdjust="spacingAndGlyphs">RSI (14, close, SMA, 14, 2)</text>
<text x="158" y="732.0" font-size="12" fill="#7e57c2" text-anchor="start" font-weight="normal" textLength="28" lengthAdjust="spacingAndGlyphs">48.85</text>
<text x="193.5" y="732.0" font-size="12" fill="#f7e554" text-anchor="start" font-weight="normal" textLength="28" lengthAdjust="spacingAndGlyphs">51.44</text>
<text x="229" y="732.0" font-size="12" fill="#1f232d" text-anchor="start" font-weight="normal" textLength="6.5" lengthAdjust="spacingAndGlyphs">ø</text>
<text x="243" y="732.0" font-size="12" fill="#1f232d" text-anchor="start" font-weight="normal" textLength="6.5" lengthAdjust="spacingAndGlyphs">ø</text>
<g transform="translate(9.8,876) scale(0.507)" fill="#131722"><path d="M14 22H7V11H0V4h14v18z"/><circle cx="20" cy="8" r="4"/><path d="M28 22h-8l7.5-18h8L28 22z"/></g>
<text x="32" y="887.3" font-size="12.5" fill="#1e222d" text-anchor="start" font-weight="normal" textLength="66.8" lengthAdjust="spacingAndGlyphs" stroke="#1e222d" stroke-width="0.2">TradingView</text>
</svg>
</div>
</body></html>
